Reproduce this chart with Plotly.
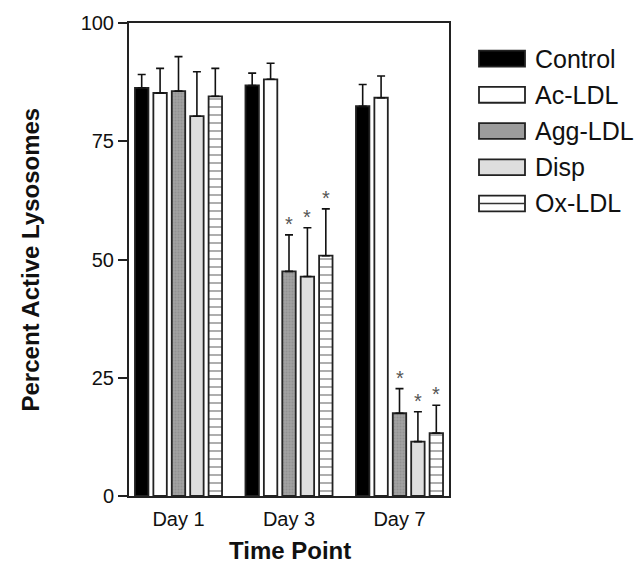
import plotly.graph_objects as go

# ---- data ----
days = ["Day 1", "Day 3", "Day 7"]
series_names = ["Control", "Ac-LDL", "Agg-LDL", "Disp", "Ox-LDL"]
control = [86.3, 86.8, 82.4]
control_err = [2.8, 2.6, 4.6]
ac_ldl = [85.2, 88.1, 84.2]
ac_ldl_err = [5.2, 3.4, 4.6]
agg_ldl = [85.6, 47.5, 17.5]
agg_ldl_err = [7.3, 7.7, 5.2]
disp = [80.3, 46.4, 11.5]
disp_err = [9.4, 10.3, 6.3]
ox_ldl = [84.5, 50.8, 13.3]
ox_ldl_err = [5.9, 9.9, 5.9]
# significance flags (asterisks)
agg_sig = [False, True, True]
disp_sig = [False, True, True]
ox_sig = [False, True, True]
y_ticks = [0, 25, 50, 75, 100]

values = [control, ac_ldl, agg_ldl, disp, ox_ldl]
errors = [control_err, ac_ldl_err, agg_ldl_err, disp_err, ox_ldl_err]
sigs = [[False] * 3, [False] * 3, agg_sig, disp_sig, ox_sig]

FONT = "Liberation Sans, Arial, Helvetica, sans-serif"
EDGE = "#222222"

styles = [
    dict(color="black"),
    dict(color="white"),
    dict(color="#9c9c9c", pattern=dict(shape=".", fgcolor="#808080", bgcolor="#a2a2a2", size=3, solidity=0.35)),
    dict(color="#dedede"),
    dict(color="white", pattern=dict(shape="-", fgcolor="#333333", bgcolor="white", size=8, solidity=0.2)),
]

fig = go.Figure()
for name, vals, errs, st in zip(series_names, values, errors, styles):
    fig.add_trace(go.Bar(
        name=name, x=days, y=vals,
        marker=dict(line=dict(color=EDGE, width=1.8), **st),
        error_y=dict(type="data", symmetric=False, array=errs, arrayminus=[0] * len(errs),
                     color="#111111", thickness=1.6, width=4),
        showlegend=False,
    ))

bargap = 0.167
n = len(series_names)
slot = (1 - bargap) / n

annotations = []
for j, (vals, errs, sg) in enumerate(zip(values, errors, sigs)):
    for i in range(len(days)):
        if sg[i]:
            annotations.append(dict(
                x=i + (j - (n - 1) / 2) * slot, y=vals[i] + errs[i], xref="x", yref="y",
                text="*", showarrow=False, yanchor="bottom", yshift=-2,
                font=dict(family=FONT, size=20, color="#555555"),
            ))

# axis titles
W, H = 639, 564
L, R, T, B = 129, 190, 18, 68
pw, ph = W - L - R, H - T - B
annotations.append(dict(text="<b>Percent Active Lysosomes</b>", xref="paper", yref="paper",
                        x=(30 - L) / pw, y=0.5, textangle=-90, showarrow=False,
                        xanchor="center", yanchor="middle",
                        font=dict(family=FONT, size=24, color="#111111")))
annotations.append(dict(text="<b>Time Point</b>", xref="paper", yref="paper",
                        x=(290 - L) / pw, y=-(551 - (H - B)) / ph, showarrow=False,
                        xanchor="center", yanchor="middle",
                        font=dict(family=FONT, size=24, color="#111111")))

# custom legend
shapes = []
leg_x0, leg_x1 = 479, 525
row_y0, row_dy, sw_h = 54, 36.6, 16
fills = ["black", "white", "#9c9c9c", "#dedede", "white"]
for k, name in enumerate(series_names):
    cy = row_y0 + k * row_dy
    x0 = (leg_x0 - L) / pw
    x1 = (leg_x1 - L) / pw
    y0 = 1 - (cy + sw_h / 2 - T) / ph
    y1 = 1 - (cy - sw_h / 2 - T) / ph
    shapes.append(dict(type="rect", xref="paper", yref="paper", x0=x0, x1=x1, y0=y0, y1=y1,
                       fillcolor=fills[k], line=dict(color=EDGE, width=1.8)))
    if name == "Ox-LDL":
        ym = 1 - (cy - T) / ph
        shapes.append(dict(type="line", xref="paper", yref="paper", x0=x0, x1=x1, y0=ym, y1=ym,
                           line=dict(color="#333333", width=1.5)))
    annotations.append(dict(text=name, xref="paper", yref="paper", x=(533 - L) / pw,
                            y=1 - (cy - T) / ph, xanchor="left", yanchor="middle", showarrow=False,
                            font=dict(family=FONT, size=25, color="#111111")))

fig.update_layout(
    width=W, height=H,
    margin=dict(l=L, r=R, t=T, b=B),
    paper_bgcolor="white", plot_bgcolor="white",
    barmode="group", bargap=bargap, bargroupgap=0.27,
    font=dict(family=FONT, size=20, color="#111111"),
    annotations=annotations, shapes=shapes,
    showlegend=False,
)
fig.update_xaxes(
    range=[-0.448, 2.448], showline=True, linecolor=EDGE, linewidth=2, mirror=True,
    ticks="outside", ticklen=4, tickcolor="rgba(0,0,0,0)", showgrid=False,
    tickfont=dict(family=FONT, size=20, color="#111111"),
)
fig.update_yaxes(
    range=[0, 100], tickvals=y_ticks, showline=True, linecolor=EDGE, linewidth=2, mirror=True,
    ticks="outside", ticklen=9, tickwidth=1.8, tickcolor=EDGE, showgrid=False, zeroline=False,
    tickfont=dict(family=FONT, size=20, color="#111111"),
)

fig.write_html("out.html")
